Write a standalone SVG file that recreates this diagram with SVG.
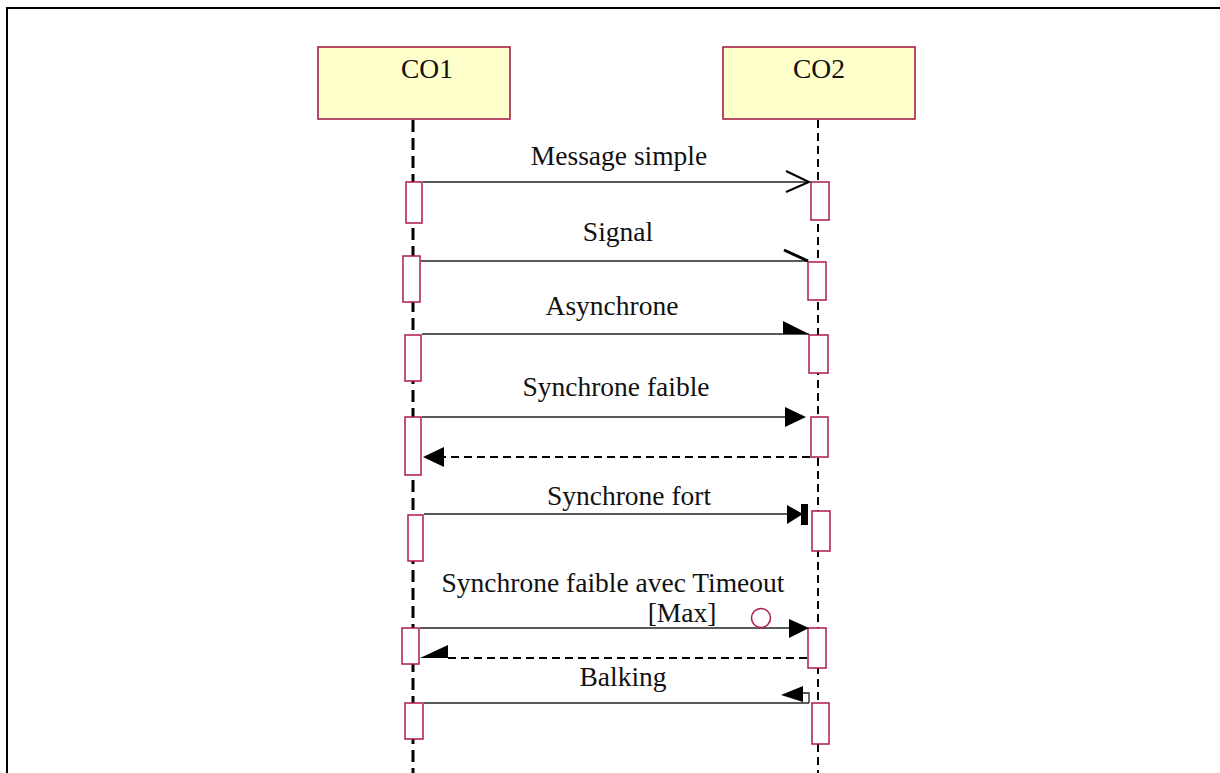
<svg xmlns="http://www.w3.org/2000/svg" width="1220" height="773" viewBox="0 0 1220 773">
<style>
.bg{fill:#ffffff}
.frame{fill:none;stroke:#000;stroke-width:2}
.obj{fill:#ffffcc;stroke:#a0103c;stroke-width:1.5}
.act{fill:#ffffff;stroke:#b01848;stroke-width:1.5}
.life1{fill:none;stroke:#000;stroke-width:3;stroke-dasharray:12 6}
.life2{fill:none;stroke:#000;stroke-width:2;stroke-dasharray:8 5}
.msg{fill:none;stroke:#222;stroke-width:1.3}
.ret{fill:none;stroke:#000;stroke-width:2;stroke-dasharray:8 5}
.head{fill:#000;stroke:none}
.open{fill:none;stroke:#000;stroke-width:2}
.lbl{font-family:"Liberation Serif",serif;font-size:27.5px;fill:#111;text-anchor:middle}
.circ{fill:none;stroke:#b01848;stroke-width:1.5}
</style>
<rect class="bg" x="0" y="0" width="1220" height="773"/>
<path class="frame" d="M7,773 V8 H1220"/>

<g id="CO1">
<rect class="obj" x="318" y="47" width="192" height="72"/>
<text class="lbl" x="427" y="78">CO1</text>
</g>
<g id="CO2">
<rect class="obj" x="723" y="47" width="192" height="72"/>
<text class="lbl" x="819" y="78">CO2</text>
</g>

<g id="lifelines">
<line class="life1" x1="413" y1="120" x2="413" y2="773"/>
<line class="life2" x1="818" y1="120" x2="818" y2="773"/>
</g>

<g id="activations">
<rect class="act" x="406" y="182" width="16" height="41"/>
<rect class="act" x="811" y="182" width="18" height="38"/>
<rect class="act" x="403" y="256" width="17" height="46"/>
<rect class="act" x="808" y="262" width="18" height="38"/>
<rect class="act" x="405" y="335" width="16" height="46"/>
<rect class="act" x="809" y="335" width="19" height="38"/>
<rect class="act" x="405" y="417" width="16" height="58"/>
<rect class="act" x="811" y="417" width="17" height="40"/>
<rect class="act" x="408" y="515" width="15" height="46"/>
<rect class="act" x="812" y="511" width="18" height="40"/>
<rect class="act" x="402" y="628" width="17" height="36"/>
<rect class="act" x="808" y="628" width="18" height="40"/>
<rect class="act" x="405" y="703" width="18" height="36"/>
<rect class="act" x="812" y="703" width="17" height="41"/>
</g>

<g id="connectors">
<!-- Message simple -->
<line class="msg" x1="423" y1="182" x2="808" y2="182"/>
<polyline class="open" points="786,171 809,182 786,192"/>
<!-- Signal -->
<line class="msg" x1="421" y1="261" x2="808" y2="261"/>
<line x1="784" y1="250" x2="808" y2="261" stroke="#000" stroke-width="3"/>
<!-- Asynchrone -->
<line class="msg" x1="422" y1="334" x2="809" y2="334"/>
<polygon class="head" points="783,321 809,334 783,334"/>
<!-- Synchrone faible -->
<line class="msg" x1="422" y1="417" x2="790" y2="417"/>
<polygon class="head" points="785,407 806,417 785,427"/>
<line class="ret" x1="810" y1="457" x2="440" y2="457"/>
<polygon class="head" points="444,447 423,457 444,467"/>
<!-- Synchrone fort -->
<line class="msg" x1="424" y1="514" x2="790" y2="514"/>
<polygon class="head" points="787,505 803,514 787,524"/>
<rect class="head" x="801" y="504" width="7" height="21"/>
<!-- Synchrone faible avec Timeout -->
<line class="msg" x1="420" y1="628" x2="792" y2="628"/>
<polygon class="head" points="789,619 809,628 789,638"/>
<circle class="circ" cx="761" cy="618" r="9.5"/>
<line class="ret" x1="807" y1="658" x2="446" y2="658"/>
<polygon class="head" points="420,658 448,645 448,658"/>
<!-- Balking -->
<line class="msg" x1="424" y1="703" x2="809" y2="703"/>
<polyline class="msg" points="803,693 809,693 809,703"/>
<polygon class="head" points="781,695 803,686 803,702"/>
</g>

<g id="labels">
<text class="lbl" x="619" y="165">Message simple</text>
<text class="lbl" x="618" y="241">Signal</text>
<text class="lbl" x="612" y="315">Asynchrone</text>
<text class="lbl" x="616" y="396">Synchrone faible</text>
<text class="lbl" x="629" y="505">Synchrone fort</text>
<text class="lbl" x="613" y="592">Synchrone faible avec Timeout</text>
<text class="lbl" x="682" y="622">[Max]</text>
<text class="lbl" x="623" y="686">Balking</text>
</g>
</svg>
